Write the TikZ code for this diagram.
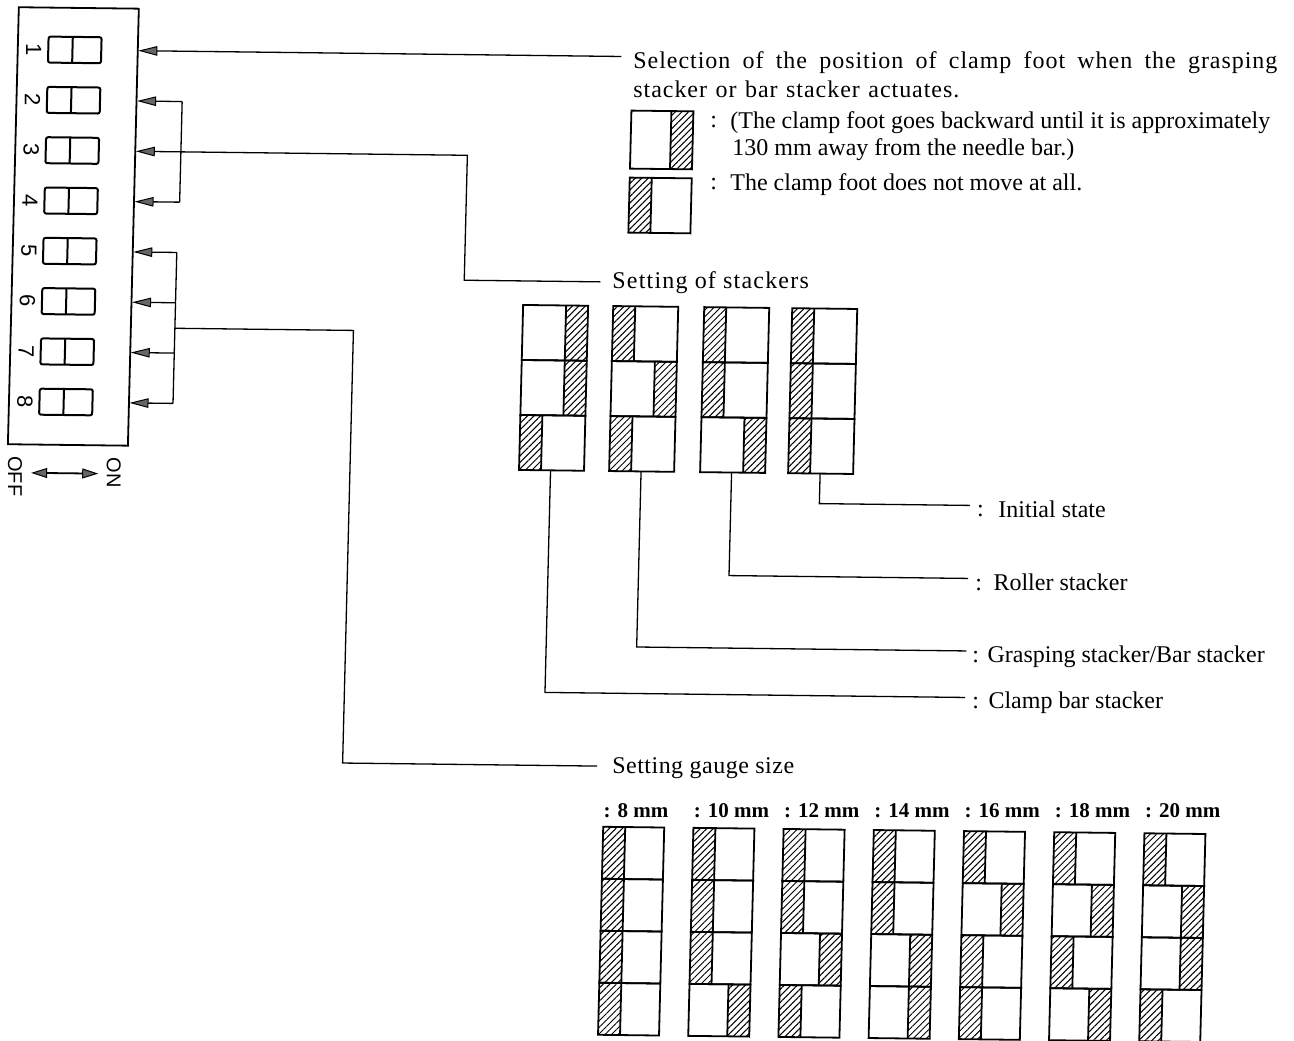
\documentclass[tikz,border=0pt]{standalone}
\usepackage{fontspec}
\setmainfont{Liberation Serif}
\newfontfamily\dipfont{Liberation Sans}
\usetikzlibrary{arrows.meta,patterns.meta}
\tikzset{
  boxline/.style={line width=1.8pt},
  conn/.style={line width=1.3pt},
  hatch/.style={pattern={Lines[angle=45,distance=4.6pt,line width=1pt]}},
  tipstyle/.style={},
  arr/.style={conn,-{Triangle[length=19pt,width=9.5pt,fill=black!60,line width=1pt]}},
  lbl/.style={font=\fontsize{24}{28}\selectfont, inner sep=0pt, anchor=base west},
  glbl/.style={font=\fontsize{21}{24}\selectfont\bfseries, inner sep=0pt, anchor=base west},
  diplbl/.style={font=\dipfont\fontsize{22}{22}\selectfont, rotate=-90, inner sep=0pt},
}
% x, ytop, width, row height, list of rows (0 = left part hatched, 1 = right part hatched)
\newcommand\blockcol[5]{%
  \edef\patlist{#5}%
  \foreach \s [count=\i from 0] in \patlist {
    \pgfmathsetmacro\yy{#2+\i*#4}
    \fill[hatch] ({#1+\s*(#3-22)},\yy) rectangle ++(22,#4);
    \draw[boxline] ({#1+22+\s*(#3-44)},\yy) -- ++(0,#4);
    \draw[boxline] (#1,\yy) rectangle ++(#3,#4);
  }}
\begin{document}
\begin{tikzpicture}[x=1pt,y=-1pt]
\useasboundingbox (0,0) rectangle (1294,1041);
\clip (0,0) rectangle (1294,1041);
\fill[white] (0,0) rectangle (1294,1041);

% whole sheet is slightly skewed, as in the scan
\begin{scope}[cm={1,-0.012,0.025,1,(0,0)}]

% ---------------- DIP switch ----------------
\draw[boxline] (19,7) rectangle (139,444);
\foreach \k in {1,...,8} {
  \pgfmathsetmacro\yc{49+(\k-1)*50.3}
  \draw[line width=2pt, rounded corners=2pt] (49.5,\yc-13) rectangle (102.5,\yc+13);
  \draw[line width=2pt] (73.7,\yc-13) -- (73.7,\yc+13);
  \node[diplbl] (n\k) at (35,\yc) {\k};
  \coordinate (e\k) at (139.5,\yc);
}
\coordinate (g2) at (184.6,99.3);
\coordinate (g4) at (184.6,199.9);
\foreach \k in {5,...,8} {
  \pgfmathsetmacro\yc{49+(\k-1)*50.3}
  \coordinate (g\k) at (183,\yc);
}
\coordinate (j2) at (183,326);

% OFF <-> ON
\node[font=\dipfont\fontsize{20}{20}\selectfont, rotate=-90, inner sep=0pt] (off) at (27,476) {OFF};
\node[font=\dipfont\fontsize{20}{20}\selectfont, rotate=-90, inner sep=0pt] (on) at (125.5,471) {ON};
\coordinate (oa) at (43,472.2);
\coordinate (ob) at (110,472.2);
\draw[line width=1.8pt,{Triangle[length=16pt,width=10pt,fill=black!60,line width=1pt]}-{Triangle[length=16pt,width=10pt,fill=black!60,line width=1pt]}] (oa) -- (ob);

% ---------------- top: clamp foot selection ----------------
\coordinate (selc) at (622.5,49);
\draw[arr] (selc) -- (e1);
\node[lbl] (sel1) at (634.7,60.4) {\addfontfeature{LetterSpace=4}\hbox to 644pt{Selection of the position of clamp foot when the grasping}};
\node[lbl] (sel2) at (635.4,89.4) {\addfontfeature{LetterSpace=4}\hbox to 326pt{stacker or bar stacker actuates.}};
\blockcol{634}{103}{62}{58}{1}
\blockcol{634}{170}{62}{55}{0}
\node[lbl] (c1) at (713.2,119.4) {:};
\node[lbl] (t1) at (733.2,119.4) {(The clamp foot goes backward until it is approximately};
\node[lbl] (t2) at (735.9,146.4) {130 mm away from the needle bar.)};
\node[lbl] (c2) at (714.7,181.4) {:};
\node[lbl] (t3) at (734.7,181.4) {The clamp foot does not move at all.};

% ---------------- bracket for switches 2 & 4, line to 3 ----------------
\draw[conn] (g2) -- (g4);
\draw[arr] (g2) -- (e2);
\draw[arr] (g4) -- (e4);
\coordinate (stkc) at (607,274.5);
\coordinate (s3c) at (471,274.5);
\draw[arr] (stkc) -- (s3c) |- (e3);
\node[lbl] (stk) at (619.2,281) {\addfontfeature{LetterSpace=5}Setting of stackers};

% ---------------- stackers ----------------
\blockcol{530.6}{298.6}{65}{55}{1,1,0}
\blockcol{620.7}{298.6}{65}{55}{0,1,0}
\blockcol{711.7}{298.6}{65}{55}{0,0,1}
\blockcol{799.7}{298.6}{65}{55}{0,0,0}
\coordinate (b1) at (562,463.6);
\coordinate (b2) at (652.5,463.6);
\coordinate (b3) at (743,463.6);
\coordinate (b4) at (831.5,463.6);
\coordinate (l4) at (982,493.5);
\coordinate (l3) at (982,566.5);
\coordinate (l2) at (982,639);
\coordinate (l1) at (982,685.5);
\draw[conn] (b4) |- (l4);
\draw[conn] (b3) |- (l3);
\draw[conn] (b2) |- (l2);
\draw[conn] (b1) |- (l1);
\node[lbl] (k4) at (989.5,505) {:};
\node[lbl] (d4) at (1010.9,505) {Initial state};
\node[lbl] (k3) at (989.5,578.2) {:};
\node[lbl] (d3) at (1007.8,578.2) {Roller stacker};
\node[lbl] (k2) at (988.5,650.2) {:};
\node[lbl] (d2) at (1003.6,650.2) {Grasping stacker/Bar stacker};
\node[lbl] (k1) at (989.5,696.2) {:};
\node[lbl] (d1) at (1005.7,696.2) {Clamp bar stacker};

% ---------------- bracket for switches 5-8 ----------------
\draw[conn] (g5) -- (g8);
\foreach \k in {5,...,8} { \draw[arr] (g\k) -- (e\k); }
\coordinate (gz1) at (361.5,326);
\coordinate (gz2) at (361.5,758.5);
\coordinate (gsc) at (616,758.5);
\draw[conn] (j2) -- (gz1) -- (gz2) -- (gsc);
\node[lbl] (gs) at (631.3,765.7) {\addfontfeature{LetterSpace=2}Setting gauge size};

% ---------------- gauge sizes ----------------
\foreach \lab/\pat [count=\n from 0] in {8/{0,0,0,0}, 10/{0,0,0,1}, 12/{0,0,1,0},
    14/{0,0,1,1}, 16/{0,1,0,0}, 18/{0,1,0,1}, 20/{0,1,1,0}} {
  \pgfmathsetmacro\gx{623.7+\n*90.2}
  \pgfmathsetmacro\gl{809.8-\n*1.08}
  \node[glbl] (m\lab) at (\gx,\gl) {: \lab\ mm};
  \blockcol{\gx}{819.3}{61}{52}{\pat}
}
\end{scope}
\end{tikzpicture}
\end{document}
